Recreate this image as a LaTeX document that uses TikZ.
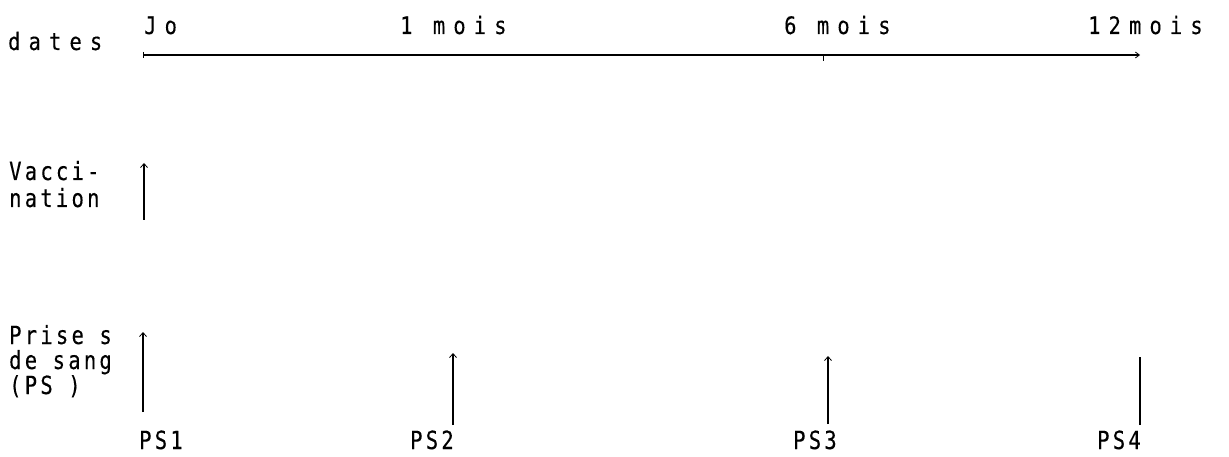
\documentclass[tikz,border=0pt]{standalone}
\usepackage{fontspec}
% narrow typewriter-like face, two trackings
\newfontfamily\widefont[LetterSpace=34,FakeStretch=0.85,FakeBold=0.25]{DejaVu Sans Mono}
\newfontfamily\tightfont[LetterSpace=13,FakeStretch=0.82,FakeBold=0.25]{DejaVu Sans Mono}
\usetikzlibrary{arrows.meta}
\begin{document}
\begin{tikzpicture}[x=1pt,y=-1pt,
  toplbl/.style={font=\widefont\fontsize{24}{28}\selectfont, inner sep=0pt, anchor=base west},
  lbl/.style={font=\tightfont\fontsize{25}{28}\selectfont, inner sep=0pt, anchor=base west},
  axis/.style={line width=1.3pt, -{Straight Barb[length=4pt,width=6pt,line width=0.8pt]}},
  uparrow/.style={line width=1.6pt, -{Straight Barb[length=4pt,width=7pt,line width=0.8pt]}},
  bar/.style={line width=1.6pt}]
\path[use as bounding box, fill=white] (0,0) rectangle (1229,457);

% row titles
\node[toplbl] (dates) at (8,50) {dates};
\node[lbl] (vac1) at (9,180) {Vacci-};
\node[lbl] (vac2) at (9,207) {nation};
\node[lbl] (ps1t) at (9,344) {Prise s};
\node[lbl] (ps2t) at (9,369) {de sang};
\node[lbl] (ps3t) at (9,394) {(PS )};

% time axis
\node[toplbl] (j0) at (144,34) {Jo};
\node[toplbl] (m1) at (400,34) {1 mois};
\node[toplbl] (m6) at (784,34) {6 mois};
\node[toplbl] (m12) at (1088,34) {12mois};
\coordinate (t0) at (143,55);
\coordinate (t12) at (1140,55);
\coordinate (t6) at (823,55);
\coordinate (t6b) at (823,61);
\coordinate (t0a) at (143,52);
\coordinate (t0b) at (143,58);
\draw[axis] (t0) -- (t12);
\draw[line width=1pt] (t6) -- (t6b);
\draw[line width=1pt] (t0a) -- (t0b);

% vaccination
\coordinate (v0) at (144,220);
\coordinate (v1) at (144,163);
\draw[uparrow] (v0) -- (v1);

% blood samples
\coordinate (p1a) at (143,412); \coordinate (p1b) at (143,332);
\coordinate (p2a) at (453,425); \coordinate (p2b) at (453,353);
\coordinate (p3a) at (828,424); \coordinate (p3b) at (828,356);
\coordinate (p4a) at (1140,425); \coordinate (p4b) at (1140,357);
\draw[uparrow] (p1a) -- (p1b);
\draw[uparrow] (p2a) -- (p2b);
\draw[uparrow] (p3a) -- (p3b);
\draw[bar] (p4a) -- (p4b);

\node[lbl] (ps1) at (139,449) {PS1};
\node[lbl] (ps2) at (410,449) {PS2};
\node[lbl] (ps3) at (793,449) {PS3};
\node[lbl] (ps4) at (1097,449) {PS4};
\end{tikzpicture}
\end{document}
